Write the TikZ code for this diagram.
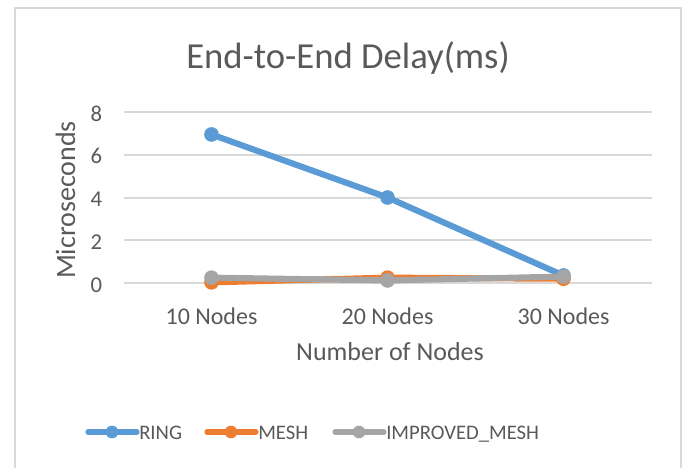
\documentclass[tikz,border=0pt]{standalone}
\usepackage{fontspec}
\setmainfont{Carlito}
\definecolor{ringblue}{HTML}{5B9BD5}
\definecolor{meshorange}{HTML}{ED7D31}
\definecolor{impgrey}{HTML}{A5A5A5}
\definecolor{gridgrey}{HTML}{D9D9D9}
\definecolor{labelgrey}{HTML}{595959}
\tikzset{
  series/.style={line width=4.6pt, line cap=round, #1},
  dot/.style={circle, fill=#1, inner sep=0pt, minimum size=11pt},
  lbl/.style={text=labelgrey, inner sep=0pt, font=\fontsize{18}{20}\selectfont},
  grid line/.style={gridgrey, line width=1.5pt},
}
\begin{document}
\begin{tikzpicture}[x=0.75pt, y=-0.75pt]
  \useasboundingbox (0,0) rectangle (684,468);
  \draw[grid line] (15,468) -- (15,8) -- (681,8) -- (681,468);
  \node[lbl, font=\fontsize{27.5}{30}\selectfont, anchor=base] (title) at (348,68) {End-to-End Delay(ms)};
  \node[lbl, font=\fontsize{21}{24}\selectfont, rotate=90, anchor=base] (ytitle) at (75,200) {Microseconds};
  \node[lbl, font=\fontsize{19.5}{22}\selectfont, anchor=base] (xtitle) at (390,360) {Number of Nodes};
  \begin{scope}[shift={(35.5,283)}, x=132pt, y=16.03pt]
    \foreach \v in {0,2,4,6,8}{
      \draw[grid line] (0.5,\v) -- (3.5,\v);
      \node[lbl, font=\fontsize{17}{20}\selectfont, anchor=base east, yshift=-6.75pt] (T\v) at (0.38,\v) {\v};
    }
    \foreach \i/\t in {1/10, 2/20, 3/30}{
      \node[lbl, anchor=base] (C\i) at (\i,-1.92) {\t\ Nodes};
    }
    % RING
    \foreach \i/\v in {1/6.95, 2/4.0, 3/0.35}{
      \node[dot=ringblue] (R\i) at (\i,\v) {};
    }
    \draw[series=ringblue] (R1) -- (R2) -- (R3);
    % MESH
    \foreach \i/\v in {1/0.03, 2/0.25, 3/0.2}{
      \node[dot=meshorange] (M\i) at (\i,\v) {};
    }
    \draw[series=meshorange] (M1) -- (M2) -- (M3);
    % IMPROVED_MESH
    \foreach \i/\v in {1/0.25, 2/0.12, 3/0.3}{
      \node[dot=impgrey] (I\i) at (\i,\v) {};
    }
    \draw[series=impgrey] (I1) -- (I2) -- (I3);
  \end{scope}
  % legend
  \foreach \n/\c/\x/\t in {R/ringblue/88/RING, M/meshorange/207/MESH, I/impgrey/335/IMPROVED\_MESH}{
    \coordinate (L\n a) at (\x,432);
    \coordinate (L\n b) at (\x+49,432);
    \draw[series=\c, line width=3.9pt] (L\n a) -- (L\n b);
    \node[dot=\c, minimum size=9.5pt] (L\n) at (\x+24,432) {};
    \node[lbl, font=\fontsize{15.5}{18}\selectfont, anchor=base west] (L\n t) at (\x+51,439) {\t};
  }
\end{tikzpicture}
\end{document}
